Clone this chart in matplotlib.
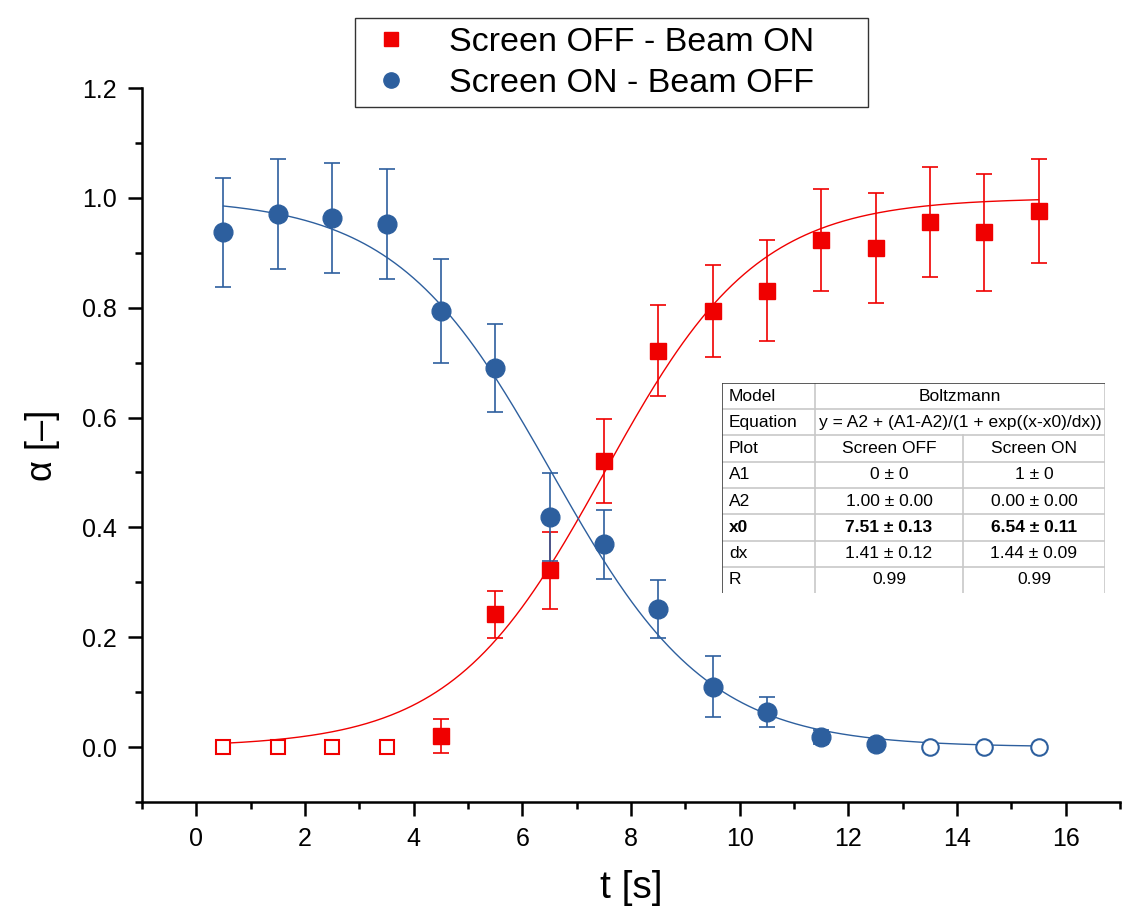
import numpy as np
import matplotlib
matplotlib.use("Agg")
import matplotlib.pyplot as plt
from matplotlib.lines import Line2D

plt.rcParams['font.family'] = ['Liberation Sans', 'DejaVu Sans']

# ---------------- data ----------------
t = [0.5, 1.5, 2.5, 3.5, 4.5, 5.5, 6.5, 7.5, 8.5, 9.5, 10.5, 11.5, 12.5, 13.5, 14.5, 15.5]
red_y = [0, 0, 0, 0, 0.020, 0.242, 0.322, 0.521, 0.722, 0.794, 0.831, 0.923, 0.908, 0.956, 0.937, 0.976]
red_err = [0, 0, 0, 0, 0.031, 0.043, 0.070, 0.077, 0.083, 0.083, 0.092, 0.093, 0.100, 0.100, 0.106, 0.095]
red_open = [True, True, True, True] + [False] * 12
blue_y = [0.937, 0.970, 0.963, 0.953, 0.794, 0.690, 0.419, 0.369, 0.252, 0.110, 0.064, 0.019, 0.005, 0, 0, 0]
blue_err = [0.100, 0.100, 0.100, 0.100, 0.094, 0.080, 0.080, 0.063, 0.053, 0.055, 0.028, 0.013, 0, 0, 0, 0]
blue_open = [False] * 13 + [True, True, True]

# Boltzmann fit parameters (from the table)
red_fit = dict(A1=0.0, A2=1.0, x0=7.51, dx=1.41)
blue_fit = dict(A1=1.0, A2=0.0, x0=6.54, dx=1.44)

labels = ["Screen OFF - Beam ON", "Screen ON - Beam OFF"]
xticks = [0, 2, 4, 6, 8, 10, 12, 14, 16]
yticks = [0.0, 0.2, 0.4, 0.6, 0.8, 1.0, 1.2]

table_col1 = ["Model", "Equation", "Plot", "A1", "A2", "x0", "dx", "R"]
table_span = ["Boltzmann", "y = A2 + (A1-A2)/(1 + exp((x-x0)/dx))"]
table_off = ["Screen OFF", "0 ± 0", "1.00 ± 0.00", "7.51 ± 0.13", "1.41 ± 0.12", "0.99"]
table_on = ["Screen ON", "1 ± 0", "0.00 ± 0.00", "6.54 ± 0.11", "1.44 ± 0.09", "0.99"]

RED = '#f00000'
BLUE = '#2d5f9e'

def boltz(x, p):
    return p['A2'] + (p['A1'] - p['A2']) / (1 + np.exp((x - p['x0']) / p['dx']))

# ---------------- figure ----------------
W, H = 1129, 913
fig = plt.figure(figsize=(W / 100, H / 100), dpi=100)
ax = fig.add_axes([142 / W, 1 - 802 / H, (1120 - 142) / W, (802 - 88) / H])

xs = np.linspace(t[0], t[-1], 400)
ax.plot(xs, boltz(xs, red_fit), color=RED, lw=1.0, zorder=2)
ax.plot(xs, boltz(xs, blue_fit), color=BLUE, lw=1.0, zorder=2)

t_arr = np.array(t)
for y, e, op, col, mk, ms in [(red_y, red_err, red_open, RED, 's', 12),
                               (blue_y, blue_err, blue_open, BLUE, 'o', 13.5)]:
    y = np.array(y); e = np.array(e); op = np.array(op)
    has = e > 0
    ax.errorbar(t_arr[has], y[has], yerr=e[has], fmt='none', ecolor=col,
                elinewidth=1.2, capsize=5.5, capthick=1.2, zorder=3)
    ax.plot(t_arr[~op], y[~op], ls='none', marker=mk, ms=ms, color=col,
            mec=col, zorder=4)
    ax.plot(t_arr[op], y[op], ls='none', marker=mk, ms=ms * 0.88, mfc='white',
            mec=col, mew=1.5, zorder=4)

ax.set_xlim(-1, 17)
ax.set_ylim(-0.1, 1.2)
ax.set_xticks(xticks)
ax.set_xticklabels([str(v) for v in xticks])
ax.set_xticks(np.arange(-1, 18, 2), minor=True)
ax.set_yticks(yticks)
ax.set_yticklabels([f"{v:.1f}" for v in yticks])
ax.set_yticks(np.arange(-0.1, 1.21, 0.2), minor=True)
for s in ['top', 'right']:
    ax.spines[s].set_visible(False)
for s in ['left', 'bottom']:
    ax.spines[s].set_linewidth(1.8)
ax.tick_params(which='major', direction='out', length=10, width=1.8, labelsize=18, pad=8)
ax.tick_params(which='minor', direction='out', length=5, width=1.8)
ax.set_xlabel("t [s]", fontsize=28, labelpad=14)
ax.set_ylabel("α [–]", fontsize=26, labelpad=16)

# legend
handles = [Line2D([], [], ls='none', marker='s', ms=10, color=RED),
           Line2D([], [], ls='none', marker='o', ms=11, color=BLUE)]
leg = fig.legend(handles, labels, loc='upper left',
                 bbox_to_anchor=(355 / W, 1 - 18 / H, 513 / W, 0.0), mode='expand',
                 fontsize=24.5, frameon=True, fancybox=False, edgecolor='black',
                 borderpad=0.25, labelspacing=0.3, handletextpad=0.9, handlelength=1.6,
                 borderaxespad=0)
leg.get_frame().set_linewidth(1.0)

# fit table
tx0, ty0, tw, th = 722, 383, 383, 210
tax = fig.add_axes([tx0 / W, 1 - (ty0 + th) / H, tw / W, th / H])
tax.set_xlim(0, tw)
tax.set_ylim(th, 0)
tax.axis('off')
tax.add_patch(plt.Rectangle((0, 0), tw, th, facecolor='white', edgecolor='none', zorder=0))
cols = [0, 93, 241, 383]
nrows = len(table_col1)
rh = th / nrows
grid_c = '#c8c8c8'
for i in range(1, nrows):
    tax.plot([0, tw], [i * rh, i * rh], color=grid_c, lw=1.2)
tax.plot([cols[1], cols[1]], [0, th], color=grid_c, lw=1.2)
tax.plot([cols[2], cols[2]], [2 * rh, th], color=grid_c, lw=1.2)
tax.plot([tw, tw], [0, th], color=grid_c, lw=1.2)
tax.plot([0, 0], [0, th], color='#404040', lw=1.2)
tax.plot([0, tw], [0, 0], color='#404040', lw=1.2)
fs = 12.5
for i, lab in enumerate(table_col1):
    tax.text(7, (i + 0.5) * rh, lab, ha='left', va='center', fontsize=fs,
             fontweight='bold' if lab == 'x0' else 'normal')
for i, lab in enumerate(table_span):
    tax.text((cols[1] + cols[3]) / 2, (i + 0.5) * rh, lab, ha='center', va='center', fontsize=fs)
for j, (a, b) in enumerate(zip(table_off, table_on)):
    r = j + 2
    bold = 'bold' if table_col1[r] == 'x0' else 'normal'
    tax.text((cols[1] + cols[2]) / 2, (r + 0.5) * rh, a, ha='center', va='center',
             fontsize=fs, fontweight=bold)
    tax.text((cols[2] + cols[3]) / 2, (r + 0.5) * rh, b, ha='center', va='center',
             fontsize=fs, fontweight=bold)

fig.savefig("out.png", dpi=100)
